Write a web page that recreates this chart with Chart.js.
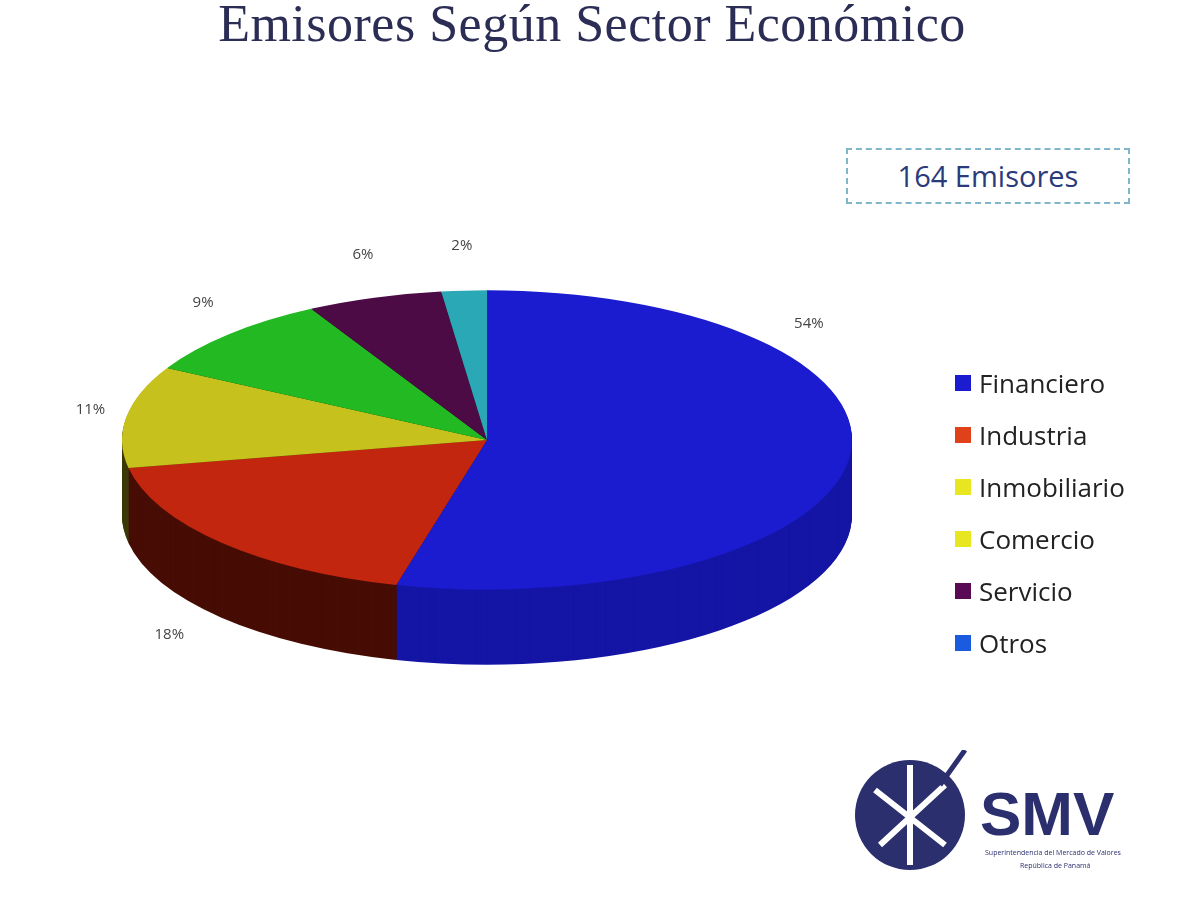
<!DOCTYPE html>
<html><head><meta charset="utf-8">
<script src="https://cdn.jsdelivr.net/npm/chart.js@4"></script>
<style>
body{margin:0;width:1200px;height:900px;background:#fff;position:relative;overflow:hidden;font-family:"Open Sans",sans-serif}
#title{position:absolute;top:-6px;left:0;width:1184px;text-align:center;font-family:"Liberation Serif",serif;font-size:52px;color:#2b2d55;letter-spacing:0.5px}
#box{position:absolute;left:846px;top:148px;width:284px;height:56px;border:2px dashed #7fb6c9;box-sizing:border-box;text-align:center;line-height:52px;font-size:29px;color:#2a3a7a}
#legend{position:absolute;left:955px;top:357px;font-size:26px;color:#222}
#legend div{height:52px;display:flex;align-items:center}
#legend span{display:inline-block;width:16px;height:16px;margin-right:8px}
#logo{position:absolute;left:850px;top:750px;width:310px;height:140px}
#c{position:absolute;left:0;top:0}
</style></head><body>
<div id="title">Emisores Según Sector Económico</div>
<div id="box">164 Emisores</div>
<canvas id="c" width="1200" height="900"></canvas>
<div id="legend"></div>
<svg id="logo" viewBox="0 0 310 140">
<circle cx="60" cy="65" r="55" fill="#2b2f6e"/>
<g stroke="#fff" stroke-width="6" fill="none"><path d="M25 40 L95 95 M30 95 L95 35 M60 15 L60 115"/></g>
<line x1="90" y1="35" x2="115" y2="0" stroke="#2b2f6e" stroke-width="5"/>
<text x="130" y="85" font-family="Liberation Sans" font-weight="bold" font-size="62" fill="#2b2f6e">SMV</text>
<text x="135" y="105" font-size="7" fill="#2b2f6e">Superintendencia del Mercado de Valores</text>
<text x="170" y="118" font-size="7" fill="#2b2f6e">República de Panamá</text>
</svg>
<script>
const categories=["Financiero","Industria","Inmobiliario","Comercio","Servicio","Otros"];
const values=[54,18,11,9,6,2];
const colors=["#1b1bcf","#c2260f","#c6c11d","#22b922","#4c0b45","#2aa8b5"];
const legendColors=["#1b1bcf","#e0401a","#e8e620","#e8e620","#5a0a55","#1a5be0"];
const SY=0.41, DEPTH=75;
function darken(h,f){const n=parseInt(h.slice(1),16);return `rgb(${(n>>16&255)*f|0},${(n>>8&255)*f|0},${(n&255)*f|0})`;}
const pie3d={id:'pie3d',
 beforeDatasetsDraw(ch){const ctx=ch.ctx;const m=ch.getDatasetMeta(0);const a=m.data[0];const cy=a.y;
  ctx.save();ctx.translate(0,cy);ctx.scale(1,SY);ctx.translate(0,-cy);
  for(let d=DEPTH;d>=1;d--){m.data.forEach((el,i)=>{ctx.beginPath();ctx.moveTo(el.x,el.y+d/SY);ctx.arc(el.x,el.y+d/SY,el.outerRadius,el.startAngle,el.endAngle);ctx.closePath();
   const ang=(el.startAngle+el.endAngle)/2;ctx.fillStyle=darken(colors[i],0.55+0.25*Math.cos(ang));ctx.fill();});}
 },
 afterDatasetsDraw(ch){const ctx=ch.ctx;ctx.restore();const m=ch.getDatasetMeta(0);
  ctx.font="15px 'Open Sans'";ctx.fillStyle="#444";ctx.textAlign="center";ctx.textBaseline="middle";
  m.data.forEach((el,i)=>{let mid=i==0?el.startAngle+0.93:(el.startAngle+el.endAngle)/2;const k=1.1;
   const up=Math.sin(mid)<0;
   let x=el.x+Math.cos(mid)*el.outerRadius*k;let y=el.y+Math.sin(mid)*el.outerRadius*(up?1.3:1.1)*SY+(up?0:DEPTH*1.1);
   if(!up)x-=25;
   ctx.fillText(values[i]+"%",x,y);});}
};
new Chart(document.getElementById('c'),{type:'pie',
 data:{labels:categories,datasets:[{data:values,backgroundColor:colors,borderWidth:0}]},
 options:{responsive:false,animation:false,layout:{padding:{left:122,right:348,top:75,bottom:95}},
  plugins:{legend:{display:false},tooltip:{enabled:false}}},
 plugins:[pie3d]});
document.getElementById('legend').innerHTML=categories.map((c,i)=>`<div><span style="background:${legendColors[i]}"></span>${c}</div>`).join('');
</script></body></html>
